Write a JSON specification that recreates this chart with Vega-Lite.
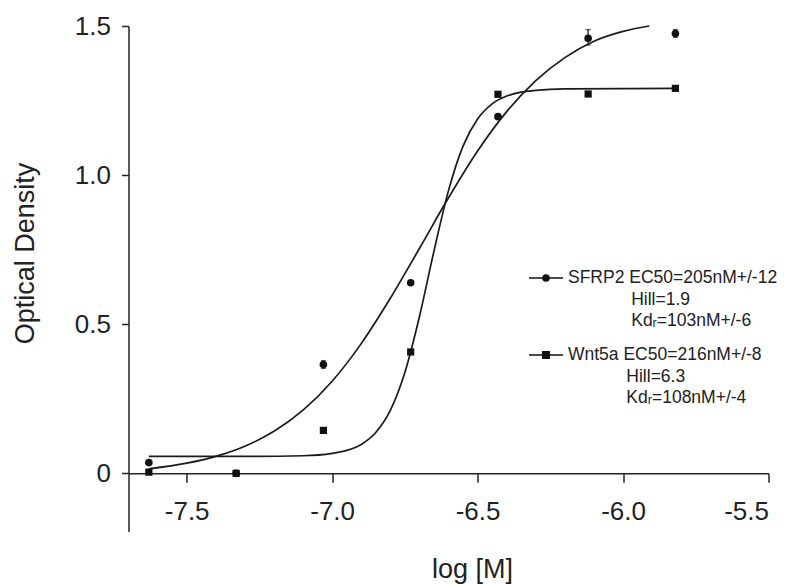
{
  "$schema": "https://vega.github.io/schema/vega-lite/v6.json",
  "autosize": {"type": "none"},
  "padding": {"left": 128.5, "top": 26, "right": 18.5, "bottom": 52.5},
  "width": 640,
  "height": 505.5,
  "background": "white",
  "config": {
    "view": {"stroke": null},
    "font": "Liberation Sans",
    "style": {"guide-label": {"lineHeight": 21.5}}
  },
  "datasets": {
    "points": [
      {"series": "SFRP2", "logM": -7.63, "od": 0.036},
      {"series": "SFRP2", "logM": -7.33, "od": 0.0},
      {"series": "SFRP2", "logM": -7.03, "od": 0.365},
      {"series": "SFRP2", "logM": -6.73, "od": 0.639},
      {"series": "SFRP2", "logM": -6.43, "od": 1.196},
      {"series": "SFRP2", "logM": -6.12, "od": 1.459},
      {"series": "SFRP2", "logM": -5.82, "od": 1.475},
      {"series": "Wnt5a", "logM": -7.63, "od": 0.004},
      {"series": "Wnt5a", "logM": -7.33, "od": 0.0},
      {"series": "Wnt5a", "logM": -7.03, "od": 0.144},
      {"series": "Wnt5a", "logM": -6.73, "od": 0.407},
      {"series": "Wnt5a", "logM": -6.43, "od": 1.271},
      {"series": "Wnt5a", "logM": -6.12, "od": 1.272},
      {"series": "Wnt5a", "logM": -5.82, "od": 1.291}
    ],
    "errors": [
      {"series": "SFRP2", "logM": -7.03, "lo": 0.352, "hi": 0.378},
      {"series": "SFRP2", "logM": -6.12, "lo": 1.436, "hi": 1.488},
      {"series": "SFRP2", "logM": -5.82, "lo": 1.462, "hi": 1.488}
    ],
    "curves": [
      {"series": "SFRP2", "logM": -7.63, "od": 0.015},
      {"series": "SFRP2", "logM": -7.5, "od": 0.034},
      {"series": "SFRP2", "logM": -7.4, "od": 0.057},
      {"series": "SFRP2", "logM": -7.3, "od": 0.091},
      {"series": "SFRP2", "logM": -7.2, "od": 0.141},
      {"series": "SFRP2", "logM": -7.1, "od": 0.212},
      {"series": "SFRP2", "logM": -7.0, "od": 0.309},
      {"series": "SFRP2", "logM": -6.9, "od": 0.435},
      {"series": "SFRP2", "logM": -6.8, "od": 0.587},
      {"series": "SFRP2", "logM": -6.7, "od": 0.754},
      {"series": "SFRP2", "logM": -6.6, "od": 0.924},
      {"series": "SFRP2", "logM": -6.5, "od": 1.081},
      {"series": "SFRP2", "logM": -6.4, "od": 1.213},
      {"series": "SFRP2", "logM": -6.3, "od": 1.317},
      {"series": "SFRP2", "logM": -6.2, "od": 1.394},
      {"series": "SFRP2", "logM": -6.1, "od": 1.449},
      {"series": "SFRP2", "logM": -6.0, "od": 1.482},
      {"series": "SFRP2", "logM": -5.91, "od": 1.5},
      {"series": "Wnt5a", "logM": -7.63, "od": 0.057},
      {"series": "Wnt5a", "logM": -7.3, "od": 0.057},
      {"series": "Wnt5a", "logM": -7.1, "od": 0.059},
      {"series": "Wnt5a", "logM": -7.0, "od": 0.067},
      {"series": "Wnt5a", "logM": -6.95, "od": 0.077},
      {"series": "Wnt5a", "logM": -6.9, "od": 0.097},
      {"series": "Wnt5a", "logM": -6.85, "od": 0.137},
      {"series": "Wnt5a", "logM": -6.8, "od": 0.211},
      {"series": "Wnt5a", "logM": -6.75, "od": 0.338},
      {"series": "Wnt5a", "logM": -6.7, "od": 0.525},
      {"series": "Wnt5a", "logM": -6.65, "od": 0.745},
      {"series": "Wnt5a", "logM": -6.6, "od": 0.948},
      {"series": "Wnt5a", "logM": -6.55, "od": 1.097},
      {"series": "Wnt5a", "logM": -6.5, "od": 1.188},
      {"series": "Wnt5a", "logM": -6.45, "od": 1.239},
      {"series": "Wnt5a", "logM": -6.4, "od": 1.265},
      {"series": "Wnt5a", "logM": -6.35, "od": 1.278},
      {"series": "Wnt5a", "logM": -6.3, "od": 1.284},
      {"series": "Wnt5a", "logM": -6.2, "od": 1.289},
      {"series": "Wnt5a", "logM": -6.0, "od": 1.29},
      {"series": "Wnt5a", "logM": -5.82, "od": 1.291}
    ]
  },
  "encoding": {
    "x": {
      "field": "logM", "type": "quantitative",
      "scale": {"domain": [-7.7, -5.5], "nice": false, "zero": false},
      "axis": {
        "orient": "bottom", "offset": -58.2,
        "values": [-7.5, -7, -6.5, -6, -5.5],
        "labelExpr": "datum.value % 1 == 0 ? datum.value + '.0' : datum.value + ''",
        "labelFontSize": 26, "labelColor": "#222", "labelPadding": 16,
        "tickSize": 9, "tickColor": "#222", "tickWidth": 1.5,
        "domainColor": "#222", "domainWidth": 1.5, "grid": false,
        "title": "log [M]", "titleFontSize": 27, "titleFontWeight": "normal", "titleColor": "#222",
        "titleX": 343.5, "titleY": 103.7, "titleBaseline": "alphabetic", "titleAlign": "center"
      }
    },
    "y": {
      "field": "od", "type": "quantitative",
      "scale": {"domain": [-0.195, 1.5], "nice": false, "zero": false},
      "axis": {
        "values": [0, 0.5, 1, 1.5],
        "labelExpr": "datum.value == 0 ? '0' : format(datum.value, '.1f')",
        "labelFontSize": 26, "labelColor": "#222", "labelPadding": 11,
        "tickSize": 7, "tickColor": "#222", "tickWidth": 1.5,
        "domainColor": "#222", "domainWidth": 1.5, "grid": false,
        "title": "Optical Density", "titleFontSize": 27, "titleFontWeight": "normal", "titleColor": "#222",
        "titleX": -95.5, "titleY": 227, "titleBaseline": "alphabetic", "titleAlign": "center", "titleAngle": -90
      }
    }
  },
  "layer": [
    {
      "data": {"name": "curves"},
      "mark": {"type": "line", "interpolate": "monotone", "color": "#1a1a1a", "strokeWidth": 1.7},
      "encoding": {"detail": {"field": "series"}}
    },
    {
      "data": {"name": "errors"},
      "mark": {"type": "errorbar", "ticks": true, "color": "#1a1a1a", "thickness": 1.3},
      "encoding": {
        "y": {"field": "lo", "type": "quantitative"},
        "y2": {"field": "hi"}
      }
    },
    {
      "data": {"name": "points"},
      "transform": [{"filter": "datum.series == 'SFRP2'"}],
      "mark": {"type": "point", "shape": "circle", "filled": true, "color": "#111", "opacity": 1, "size": 58}
    },
    {
      "data": {"name": "points"},
      "transform": [{"filter": "datum.series == 'Wnt5a'"}],
      "mark": {"type": "point", "shape": "square", "filled": true, "color": "#111", "opacity": 1, "size": 52}
    },
    {
      "data": {"name": "points"},
      "mark": {"type": "point", "filled": false, "color": "#111", "strokeWidth": 1.5, "opacity": 1, "size": 0},
      "encoding": {
        "shape": {
          "field": "series", "type": "nominal",
          "scale": {"domain": ["SFRP2", "Wnt5a"], "range": [
            "M-1,0H1M0.04,0A0.04,0.04,0,1,1,-0.04,0A0.04,0.04,0,1,1,0.04,0M0.09,0A0.09,0.09,0,1,1,-0.09,0A0.09,0.09,0,1,1,0.09,0M0.14,0A0.14,0.14,0,1,1,-0.14,0A0.14,0.14,0,1,1,0.14,0M0.18,0A0.18,0.18,0,1,1,-0.18,0A0.18,0.18,0,1,1,0.18,0",
            "M-1,0H1M-0.19,-0.19H0.19V0.19H-0.19ZM-0.14,-0.14H0.14V0.14H-0.14ZM-0.09,-0.09H0.09V0.09H-0.09ZM-0.04,-0.04H0.04V0.04H-0.04Z"
          ]},
          "legend": {
            "orient": "none", "legendX": 399.5, "legendY": 234,
            "title": null, "padding": 0,
            "symbolSize": 1156, "symbolStrokeWidth": 1.5, "symbolStrokeColor": "#111", "symbolOpacity": 1,
            "labelFontSize": 17.5, "labelColor": "#222", "labelOffset": 4, "labelLimit": 400,
            "rowPadding": 7,
            "labelExpr": "datum.label == 'SFRP2' ? ['SFRP2 EC50=205nM+/-12', '\u200b\u00a0\u00a0\u00a0\u00a0\u00a0\u00a0\u00a0\u00a0\u00a0\u00a0\u00a0\u00a0\u00a0Hill=1.9', '\u200b\u00a0\u00a0\u00a0\u00a0\u00a0\u00a0\u00a0\u00a0\u00a0\u00a0\u00a0\u00a0\u00a0Kd\u1d63=103nM+/-6'] : ['Wnt5a EC50=216nM+/-8', '\u200b\u00a0\u00a0\u00a0\u00a0\u00a0\u00a0\u00a0\u00a0\u00a0\u00a0\u00a0\u00a0Hill=6.3', '\u200b\u00a0\u00a0\u00a0\u00a0\u00a0\u00a0\u00a0\u00a0\u00a0\u00a0\u00a0\u00a0Kd\u1d63=108nM+/-4']"
          }
        }
      }
    }
  ]
}
